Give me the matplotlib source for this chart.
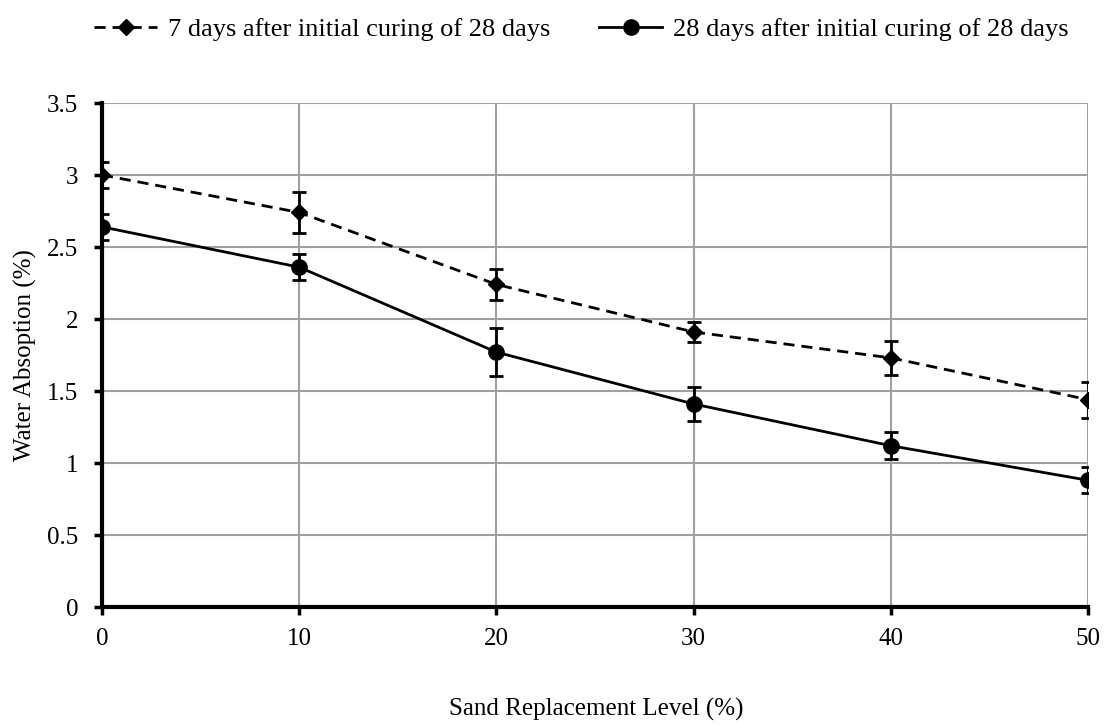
import numpy as np
import matplotlib.pyplot as plt

plt.rcParams['font.family'] = ['Liberation Serif', 'DejaVu Serif']

level = [0, 10, 20, 30, 40, 50]
wa_7 = [3.00, 2.74, 2.24, 1.91, 1.73, 1.44]
err_7 = [0.09, 0.14, 0.11, 0.07, 0.12, 0.125]
wa_28 = [2.64, 2.36, 1.77, 1.41, 1.12, 0.88]
err_28 = [0.09, 0.09, 0.165, 0.12, 0.095, 0.09]

fig = plt.figure(figsize=(11.05, 7.25), dpi=100)
ax = fig.add_axes([102/1105, 1 - 607/725, 986/1105, 504/725])

e7 = ax.errorbar(level, wa_7, yerr=err_7, color='black', ls=(0, (4, 2.5)), lw=2,
                 marker='D', ms=8, capsize=5, capthick=2, elinewidth=2, zorder=3)
e28 = ax.errorbar(level, wa_28, yerr=err_28, color='black', ls='-', lw=2,
                  marker='o', ms=11, capsize=5, capthick=2, elinewidth=2, zorder=3)

ax.set_xlim(0, 50)
ax.set_ylim(0, 3.5)
ax.set_xticks(level)
ax.set_yticks(np.arange(0, 3.51, 0.5))
ax.set_yticklabels(['0', '0.5', '1', '1.5', '2', '2.5', '3', '3.5'])
ax.grid(True, color='#a0a0a0', lw=1.5)
ax.set_axisbelow(True)
for s in ['top', 'right']:
    ax.spines[s].set_visible(False)
for s in ['left', 'bottom']:
    ax.spines[s].set_linewidth(3)
ax.tick_params(axis='both', labelsize=18, width=2.5, length=6, direction='out')
ax.tick_params(axis='x', pad=9)
ax.tick_params(axis='y', pad=11)

fig.text(25/1105, 0.51, 'Water Absoption (%)', rotation=90, ha='center', va='center', fontsize=18)
fig.text(0.54, 0.021, 'Sand Replacement Level (%)', ha='center', va='center', fontsize=18)

fig.legend([e7[0], e28[0]],
           ['7 days after initial curing of 28 days', '28 days after initial curing of 28 days'],
           loc='center', bbox_to_anchor=(0.526, 0.959), ncol=2, frameon=False,
           fontsize=19, handlelength=2.4, handletextpad=0.4, columnspacing=1.85,
           borderpad=0, borderaxespad=0)

fig.savefig('out.png', dpi=100)
